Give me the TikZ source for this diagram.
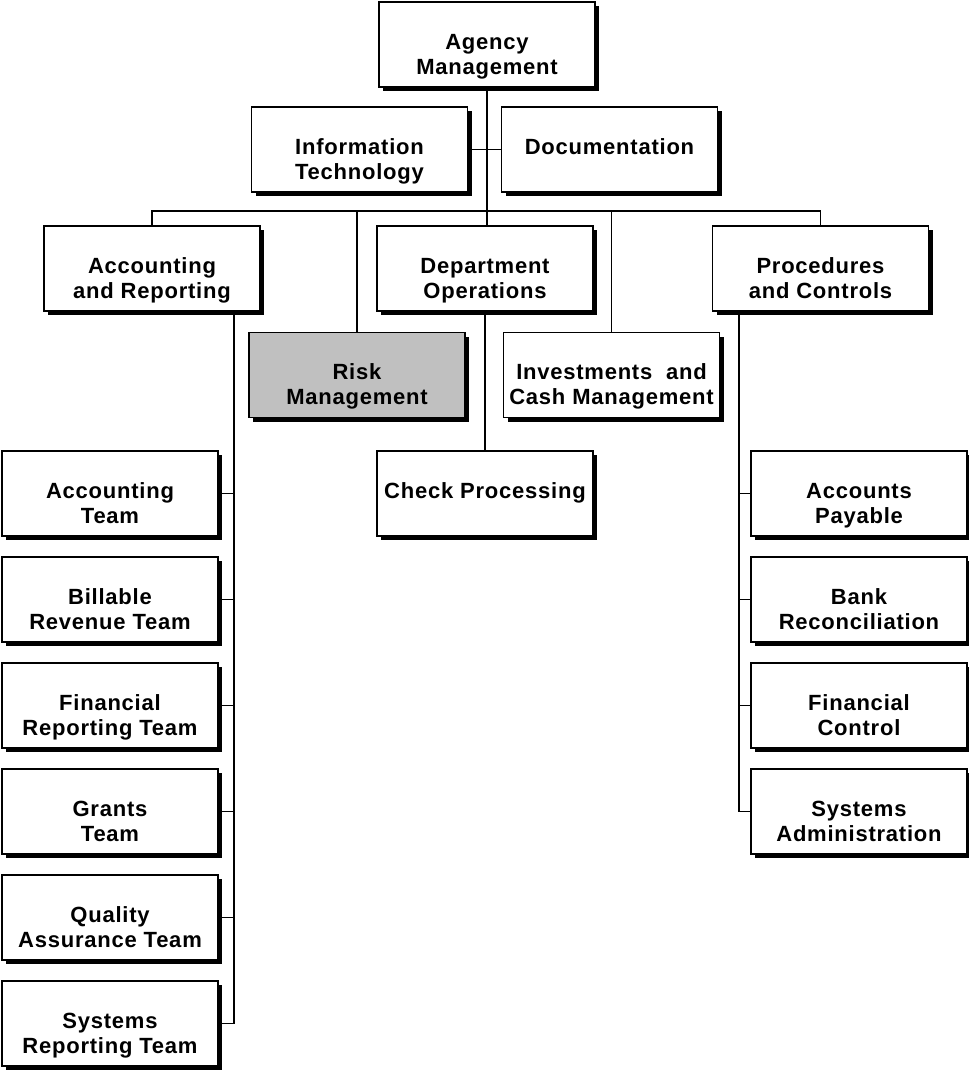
\documentclass[tikz,border=0pt]{standalone}
\usepackage{fontspec}
\setmainfont{Liberation Sans}[LetterSpace=3.5]
\usetikzlibrary{shadows}

\tikzset{
	unit/.style={draw, line width=1.5pt, fill=white, align=center,
		minimum width=216pt, inner xsep=2pt, inner ysep=0pt,
		text height=72pt, text depth=13pt,
		font=\bfseries\fontsize{22}{25}\selectfont,
		drop shadow={shadow xshift=4pt, shadow yshift=-4pt, fill=black, opacity=1}},
	link/.style={line width=1.5pt}
}

\begin{document}
\begin{tikzpicture}[x=1pt,y=-1pt]
		\useasboundingbox (0,0) rectangle (969,1072);

		\node[unit] (agency) at (487,44.5) {Agency\\Management};
		\node[unit] (it) at (359.5,149.5) {Information\\Technology};
		\node[unit] (doc) at (609.5,149.5) {Documentation\\\strut};

		\node[unit] (accrep) at (152,268.5) {Accounting\\and Reporting};
		\node[unit] (deptops) at (485,268.5) {Department\\Operations};
		\node[unit] (proc) at (820.5,268.5) {Procedures\\and Controls};

		\node[unit, fill={rgb,255:red,192;green,192;blue,192}] (risk) at (357,375) {Risk\\Management};
		\node[unit] (invest) at (611.5,375) {Investments~~and\\Cash Management};
		\node[unit] (check) at (485,493.5) {Check Processing\\\strut};

		\node[unit] (accteam) at (110,493.5) {Accounting\\Team};
		\node[unit] (billable) at (110,599.5) {Billable\\Revenue Team};
		\node[unit] (finrep) at (110,705.5) {Financial\\Reporting Team};
		\node[unit] (grants) at (110,811.5) {Grants\\Team};
		\node[unit] (quality) at (110,917.5) {Quality\\Assurance Team};
		\node[unit] (sysrep) at (110,1023.5) {Systems\\Reporting Team};

		\node[unit] (payable) at (859,493.5) {Accounts\\Payable};
		\node[unit] (bankrec) at (859,599.5) {Bank\\Reconciliation};
		\node[unit] (finctrl) at (859,705.5) {Financial\\Control};
		\node[unit] (sysadmin) at (859,811.5) {Systems\\Administration};

		\coordinate (bus) at (487,211);
		\coordinate (lspine) at (234,0);
		\coordinate (rspine) at (739,0);

		\begin{scope}[on background layer/.try]
		\draw[link] (agency.south) -- (agency.south |- deptops.north);
		\draw[link] (it.east) -- (doc.west);
		\draw[link] (accrep.north) |- (bus) -| (proc.north);
		\draw[link] (risk.north) -- (risk.north |- bus);
		\draw[link] (invest.north) -- (invest.north |- bus);
		\draw[link] (deptops.south) -- (check.north);

		\draw[link] (lspine |- accrep.south) |- (sysrep.east);
		\foreach \n in {accteam,billable,finrep,grants,quality}
			\draw[link] (\n.east) -- (\n.east -| lspine);

		\draw[link] (rspine |- proc.south) |- (sysadmin.west);
		\foreach \n in {payable,bankrec,finctrl}
			\draw[link] (\n.west) -- (\n.west -| rspine);
		\end{scope}
\end{tikzpicture}
\end{document}
